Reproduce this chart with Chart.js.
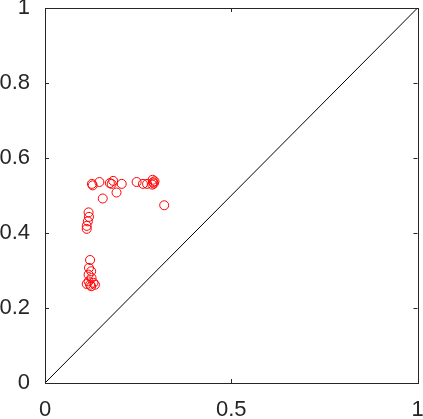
<!DOCTYPE html>
<html>
<head>
<meta charset="utf-8">
<script src="https://cdn.jsdelivr.net/npm/chart.js@4"></script>
<style>
  html, body { margin: 0; padding: 0; background: #fff; }
  #wrap { width: 423px; height: 419px; }
</style>
</head>
<body>
<div id="wrap"><canvas id="scatterChart" width="423" height="419"></canvas></div>
<script>
// 점 데이터 (x, y)
const pointX = [0.128, 0.126, 0.146, 0.174, 0.183, 0.179, 0.206, 0.246, 0.263, 0.274, 0.289, 0.290, 0.292, 0.294, 0.288,
                0.192, 0.155, 0.320,
                0.117, 0.118, 0.115, 0.112, 0.112,
                0.121, 0.118, 0.124, 0.117, 0.125, 0.117, 0.130, 0.121, 0.134, 0.112, 0.124];
const pointY = [0.527, 0.531, 0.536, 0.533, 0.539, 0.531, 0.531, 0.536, 0.531, 0.531, 0.542, 0.535, 0.532, 0.538, 0.529,
                0.508, 0.492, 0.474,
                0.455, 0.443, 0.431, 0.419, 0.411,
                0.328, 0.307, 0.298, 0.289, 0.280, 0.271, 0.267, 0.262, 0.262, 0.264, 0.258];
// 대각선
const diagX = [0, 1];
const diagY = [0, 1];
// 눈금
const xTicks = [0, 0.5, 1];
const yTicks = [0, 0.2, 0.4, 0.6, 0.8, 1];

const axisColor = '#262626';

// 축 상자와 안쪽 눈금 그리기
const boxPlugin = {
    id: 'boxPlugin',
    afterDraw(chart) {
        const ctx = chart.ctx;
        const a = chart.chartArea;
        const xs = chart.scales.x, ys = chart.scales.y;
        ctx.save();
        ctx.strokeStyle = axisColor;
        ctx.lineWidth = 1;
        ctx.strokeRect(Math.round(a.left) + 0.5, Math.round(a.top) + 0.5,
            Math.round(a.right - a.left), Math.round(a.bottom - a.top));
        ctx.beginPath();
        xTicks.forEach(function(v) {
            const px = Math.round(xs.getPixelForValue(v)) + 0.5;
            ctx.moveTo(px, a.bottom); ctx.lineTo(px, a.bottom - 4);
            ctx.moveTo(px, a.top); ctx.lineTo(px, a.top + 4);
        });
        yTicks.forEach(function(v) {
            const py = Math.round(ys.getPixelForValue(v)) + 0.5;
            ctx.moveTo(a.left, py); ctx.lineTo(a.left + 4, py);
            ctx.moveTo(a.right, py); ctx.lineTo(a.right - 4, py);
        });
        ctx.stroke();
        ctx.restore();
    }
};

new Chart(document.getElementById('scatterChart'), {
    type: 'scatter',
    data: {
        datasets: [{
            data: pointX.map(function(x, i) { return { x: x, y: pointY[i] }; }),
            borderColor: '#ff0000',
            backgroundColor: 'rgba(0,0,0,0)',
            borderWidth: 1,
            pointRadius: 4.5,
            pointHoverRadius: 4.5
        }, {
            type: 'line',
            data: diagX.map(function(x, i) { return { x: x, y: diagY[i] }; }),
            borderColor: '#000000',
            borderWidth: 1,
            pointRadius: 0,
            fill: false
        }]
    },
    options: {
        responsive: false,
        animation: false,
        layout: { padding: { top: 8, right: 4, left: 0, bottom: 0 } },
        plugins: {
            legend: { display: false },
            tooltip: { enabled: false }
        },
        scales: {
            x: {
                type: 'linear',
                min: 0, max: 1,
                afterBuildTicks: function(s) { s.ticks = xTicks.map(function(v) { return { value: v }; }); },
                afterFit: function(s) { s.height = 36; s.paddingLeft = 0; s.paddingRight = 0; },
                grid: { display: false },
                border: { display: false },
                ticks: {
                    color: axisColor,
                    font: { family: 'Liberation Sans, Arial', size: 22 },
                    padding: 6,
                    maxRotation: 0,
                    callback: function(v) { return String(v); }
                }
            },
            y: {
                type: 'linear',
                min: 0, max: 1,
                afterBuildTicks: function(s) { s.ticks = yTicks.map(function(v) { return { value: v }; }); },
                afterFit: function(s) { s.width = 45; s.paddingTop = 0; s.paddingBottom = 0; },
                grid: { display: false },
                border: { display: false },
                ticks: {
                    color: axisColor,
                    font: { family: 'Liberation Sans, Arial', size: 22 },
                    padding: 7,
                    callback: function(v) { return String(v); }
                }
            }
        }
    },
    plugins: [boxPlugin]
});
</script>
</body>
</html>
